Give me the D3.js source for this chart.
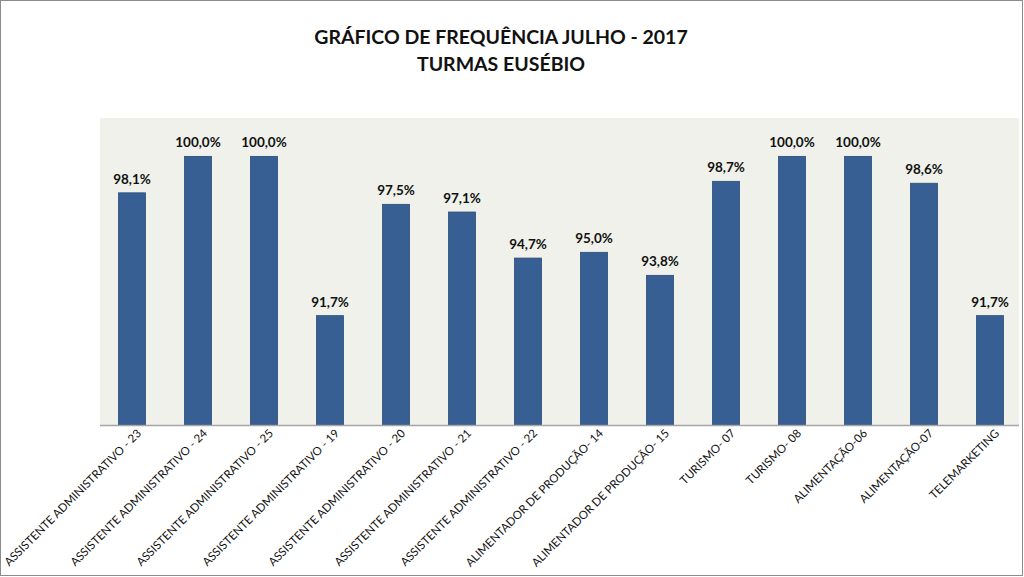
<!DOCTYPE html>
<html>
<head>
<meta charset="utf-8">
<script src="https://cdn.jsdelivr.net/npm/d3@7"></script>
<style>
  body { margin: 0; background: #fff; }
  svg { display: block; font-family: Lato, "Open Sans", sans-serif; }
</style>
</head>
<body>
<script>
// turmas e frequencia (%)
var turmas = [
  "ASSISTENTE ADMINISTRATIVO - 23",
  "ASSISTENTE ADMINISTRATIVO - 24",
  "ASSISTENTE ADMINISTRATIVO - 25",
  "ASSISTENTE ADMINISTRATIVO - 19",
  "ASSISTENTE ADMINISTRATIVO - 20",
  "ASSISTENTE ADMINISTRATIVO - 21",
  "ASSISTENTE ADMINISTRATIVO - 22",
  "ALIMENTADOR DE PRODUÇÃO- 14",
  "ALIMENTADOR DE PRODUÇÃO- 15",
  "TURISMO- 07",
  "TURISMO- 08",
  "ALIMENTAÇÃO-06",
  "ALIMENTAÇÃO-07",
  "TELEMARKETING"
];
var frequencia = [98.1, 100.0, 100.0, 91.7, 97.5, 97.1, 94.7, 95.0, 93.8, 98.7, 100.0, 100.0, 98.6, 91.7];
var titulo = ["GRÁFICO DE FREQUÊNCIA JULHO - 2017", "TURMAS EUSÉBIO"];

var width = 1024, height = 577;
var plot = {left: 100, right: 1019, top: 118, bottom: 425};

var data = turmas.map((t, i) => ({turma: t, valor: frequencia[i]}));

var ptBR = d3.formatLocale({decimal: ",", thousands: ".", grouping: [3], currency: ["R$", ""]});
var fmt = v => ptBR.format(".1f")(v) + "%";

var svg = d3.select("body").append("svg")
    .attr("width", width)
    .attr("height", height);

// moldura
svg.append("rect")
    .attr("x", 0.5).attr("y", 0.5)
    .attr("width", width - 2).attr("height", height - 2)
    .attr("fill", "#fff")
    .attr("stroke", "#8c8c8c");

svg.append("rect")
    .attr("x", plot.left).attr("y", plot.top)
    .attr("width", plot.right - plot.left)
    .attr("height", plot.bottom - plot.top)
    .attr("fill", "#eff1ea");

svg.append("g")
    .attr("text-anchor", "middle")
    .attr("font-weight", "bold")
    .attr("font-size", 19.5)
    .attr("fill", "#111")
  .selectAll("text")
  .data(titulo)
  .join("text")
    .attr("x", 501)
    .attr("y", (d, i) => 44 + i * 27)
    .text(d => d);

var x = d3.scaleBand()
    .domain(turmas)
    .range([99, 1023])
    .paddingInner(0.59)
    .paddingOuter(0.295);

var y = d3.scaleLinear()
    .domain([86, 102])
    .range([plot.bottom, plot.top]);

svg.append("g")
  .selectAll("rect")
  .data(data)
  .join("rect")
    .attr("x", d => x(d.turma))
    .attr("y", d => y(d.valor))
    .attr("width", x.bandwidth())
    .attr("height", d => plot.bottom - y(d.valor))
    .attr("fill", "#375f93")
    .attr("stroke", "#2c4e78")
    .attr("stroke-width", 0.8);

svg.append("g")
    .attr("text-anchor", "middle")
    .attr("font-weight", "bold")
    .attr("font-size", 13.5)
    .attr("fill", "#111")
  .selectAll("text")
  .data(data)
  .join("text")
    .attr("x", d => x(d.turma) + x.bandwidth() / 2)
    .attr("y", d => y(d.valor) - 9)
    .text(d => fmt(d.valor));

// eixo x
var xAxis = svg.append("g")
    .attr("transform", `translate(0,${plot.bottom})`)
    .call(d3.axisBottom(x).tickSize(0).tickPadding(0));

xAxis.select(".domain")
    .attr("d", `M${plot.left},0.5H${plot.right}`)
    .attr("stroke", "#a6a6a6")
    .attr("stroke-width", 1.5);

xAxis.selectAll("text")
    .attr("font-family", "Lato, 'Open Sans', sans-serif")
    .attr("font-size", 11.5)
    .attr("fill", "#111")
    .attr("text-anchor", "end")
    .attr("dy", null)
    .attr("transform", "translate(10,9) rotate(-45)");
</script>
</body>
</html>
